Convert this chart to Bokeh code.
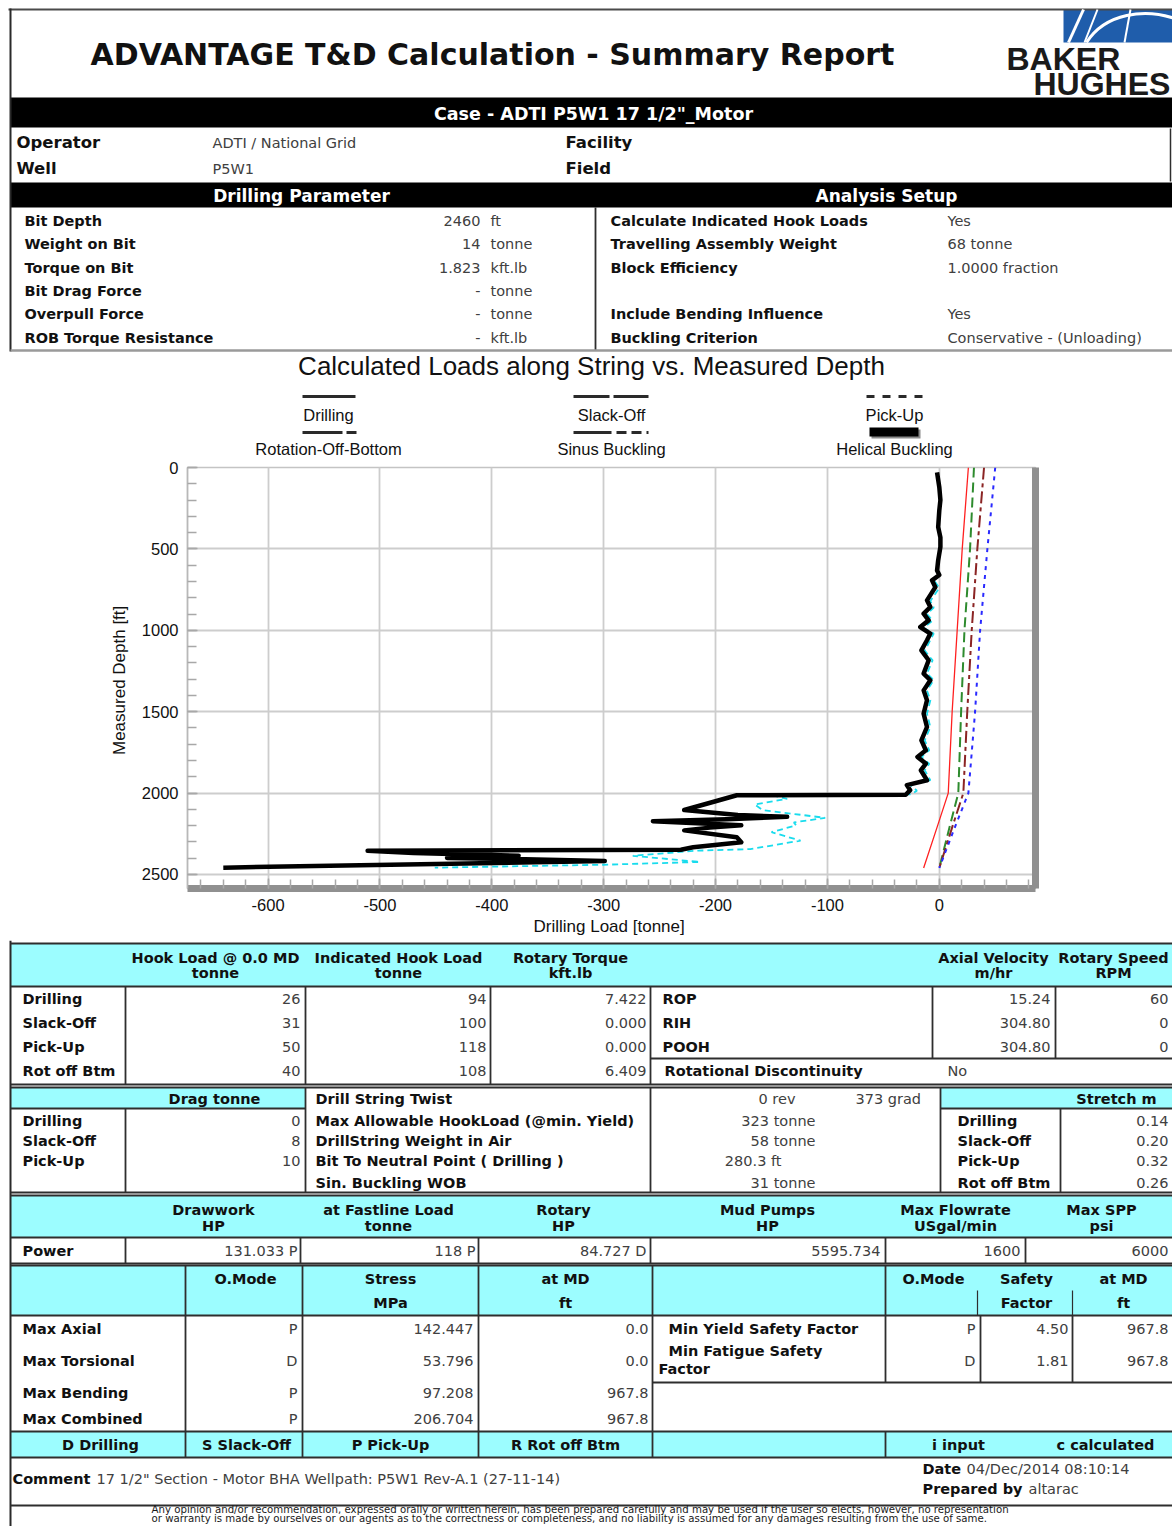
from bokeh.plotting import figure
from bokeh.models import (Range1d, ColumnDataSource, LinearAxis, SingleIntervalTicker, FixedTicker,
                          CustomJSTickFormatter)
from bokeh.layouts import column
from bokeh.embed import file_html
from bokeh.resources import INLINE
from bokeh.core.properties import field

# ---------------------------------------------------------------- chart data
# thick black curve (helical buckling section)
helical_md = [30, 120, 200, 264, 366, 430, 488, 570, 632, 660,
              693, 735, 816, 857, 898, 939, 980, 1020, 1061, 1123,
              1184, 1266, 1307, 1369, 1430, 1512, 1594, 1676, 1737, 1778,
              1819, 1860, 1921, 1951, 1982, 2010, 2013, 2050, 2104, 2135,
              2146, 2160, 2173, 2198, 2212, 2229, 2271, 2302, 2333, 2348,
              2354, 2368, 2385, 2398, 2405, 2417, 2435, 2458]
helical_load = [-2, 0, 1, 0, -1, 1, 1, -1, -2, 0,
                -6.5, -3.5, -11, -8, -14, -9.5, -17, -8, -11, -16,
                -9.5, -14, -8, -14, -11, -14, -11, -16, -12, -19.5,
                -12, -16.5, -11, -29, -26, -30, -181, -200, -228, -180,
                -136, -190, -256, -177, -205, -228, -181, -177, -220, -231,
                -511, -470, -376, -440, -380, -299, -450, -640]
# cyan dashed curve (sinus buckling section)
sinus_md = [650, 700, 740, 820, 860, 900, 940, 985, 1020, 1060,
            1125, 1185, 1265, 1305, 1370, 1430, 1512, 1594, 1676, 1737,
            1778, 1820, 1860, 1921, 1950, 1985, 2008, 2012, 2035, 2070,
            2104, 2152, 2180, 2198, 2240, 2292, 2344, 2354, 2385, 2423,
            2440, 2458]
sinus_load = [1, -4, 0, -8, -5, -11, -6, -14, -5, -8,
              -13, -6, -11, -5, -11, -8, -11, -8, -13, -9,
              -16, -9, -13, -8, -26, -20, -25, -150, -136, -165,
              -158, -102, -130, -128, -150, -124, -169, -218, -274, -214,
              -300, -451]
# operating-mode load curves
ref_md = [0, 500, 1000, 1500, 2000, 2200, 2460]
drilling_load = [26, 20.5, 16, 11.5, 8, -1.5, -14]
slackoff_load = [31, 27.5, 22.5, 19.5, 17, 9.5, 0]
rotoff_load = [40, 34, 29, 25, 21.5, 12, 0]
pickup_load = [50, 43, 36.5, 32, 26, 14.5, 0]

# ---------------------------------------------------------------- report data
report_title = "ADVANTAGE T&D Calculation - Summary Report"
case_title = 'Case - ADTI P5W1 17 1/2"_Motor'
operator, well = "ADTI / National Grid", "P5W1"
dp_labels = ["Bit Depth", "Weight on Bit", "Torque on Bit", "Bit Drag Force", "Overpull Force", "ROB Torque Resistance"]
dp_values = ["2460", "14", "1.823", "-", "-", "-"]
dp_units = ["ft", "tonne", "kft.lb", "tonne", "tonne", "kft.lb"]
as_labels = ["Calculate Indicated Hook Loads", "Travelling Assembly Weight", "Block Efficiency", "", "Include Bending Influence", "Buckling Criterion"]
as_values = ["Yes", "68 tonne", "1.0000 fraction", "", "Yes", "Conservative - (Unloading)"]
legend_names = ["Drilling", "Slack-Off", "Pick-Up", "Rotation-Off-Bottom", "Sinus Buckling", "Helical Buckling"]

modes = ["Drilling", "Slack-Off", "Pick-Up", "Rot off Btm"]
hook_load_0md = [26, 31, 50, 40]
indicated_hook_load = [94, 100, 118, 108]
rotary_torque = ["7.422", "0.000", "0.000", "6.409"]
velocity_modes = ["ROP", "RIH", "POOH"]
axial_velocity = ["15.24", "304.80", "304.80"]
rotary_speed = ["60", "0", "0"]
drag = [0, 8, 10]
string_labels = ["Drill String Twist", "Max Allowable HookLoad (@min. Yield)", "DrillString Weight in Air",
                 "Bit To Neutral Point ( Drilling )", "Sin. Buckling WOB"]
string_values = ["0 rev", "323 tonne", "58 tonne", "280.3 ft", "31 tonne"]
stretch = ["0.14", "0.20", "0.32", "0.26"]
power_headers = [("Drawwork", "HP"), ("at Fastline Load", "tonne"), ("Rotary", "HP"),
                 ("Mud Pumps", "HP"), ("Max Flowrate", "USgal/min"), ("Max SPP", "psi")]
power_values = ["131.033 P", "118 P", "84.727 D", "5595.734", "1600", "6000"]
stress_labels = ["Max Axial", "Max Torsional", "Max Bending", "Max Combined"]
stress_mode = ["P", "D", "P", "P"]
stress_mpa = ["142.447", "53.796", "97.208", "206.704"]
stress_md = ["0.0", "0.0", "967.8", "967.8"]
safety_mode = ["P", "D"]
safety_factor = ["4.50", "1.81"]
safety_md = ["967.8", "967.8"]
mode_codes = ["D Drilling", "S Slack-Off", "P Pick-Up", "R Rot off Btm", "i input", "c calculated"]
comment = '17 1/2" Section - Motor BHA Wellpath: P5W1 Rev-A.1 (27-11-14)'
date_str, prepared_by = "04/Dec/2014 08:10:14", "altarac"
disclaimer = ["Any opinion and/or recommendation, expressed orally or written herein, has been prepared carefully and may be used if the user so elects, however, no representation",
              "or warranty is made by ourselves or our agents as to the correctness or completeness, and no liability is assumed for any damages resulting from the use of same."]

# ---------------------------------------------------------------- helpers
W = 1172
X0, X1 = 0, W
TAB = "DejaVu Sans"
CH = "Liberation Sans"
CYAN = "#9cfdff"
LN = "#2e2e2e"
VAL = "#404040"
SPLIT_AB, SPLIT_BC, BOTTOM = 458, 940, 1526
RX = 1168  # right edge used for right-aligned values at the cut page border


def no_align(fig):
    if "frame_align" in fig.properties():
        fig.frame_align = False


class Sheet:
    def __init__(self, y0, y1):
        self.fig = figure(width=W, height=y1 - y0, x_range=Range1d(X0, X1), y_range=Range1d(y1, y0),
                          x_axis_type=None, y_axis_type=None, output_backend="svg",
                          toolbar_location=None, min_border=0, outline_line_color=None)
        no_align(self.fig)
        self.T = {k: [] for k in ("x", "y", "text", "size", "style", "color", "align", "font")}
        self.Q = {k: [] for k in ("l", "r", "t", "b", "fill")}
        self.S = {k: [] for k in ("x0", "y0", "x1", "y1", "color", "width")}

    def text(self, x, y, s, size=14.5, bold=False, align="left", color="#111111", font=TAB):
        for k, v in zip(self.T, (x, y, s, f"{size}px", "bold" if bold else "normal", color, align, font)):
            self.T[k].append(v)

    def box(self, l, r, t, b, fill):
        for k, v in zip(self.Q, (l, r, t, b, fill)):
            self.Q[k].append(v)

    def seg(self, x0, y0, x1, y1, color=LN, width=1.8):
        for k, v in zip(self.S, (x0, y0, x1, y1, color, width)):
            self.S[k].append(v)

    def h(self, x0, x1, y, **kw):
        self.seg(x0, y, x1, y, **kw)

    def v(self, x, y0, y1, **kw):
        self.seg(x, y0, x, y1, **kw)

    def render(self):
        f = self.fig
        f.quad(left="l", right="r", top="t", bottom="b", fill_color=field("fill"), line_color=None,
               source=ColumnDataSource(self.Q))
        f.segment(x0="x0", y0="y0", x1="x1", y1="y1", line_color=field("color"), line_width=field("width"),
                  source=ColumnDataSource(self.S))
        f.text(x="x", y="y", text="text", text_font_size=field("size"), text_font_style=field("style"),
               text_color=field("color"), text_align=field("align"), text_font=field("font"),
               text_baseline="middle", source=ColumnDataSource(self.T))


# ================================================================ top sheet
A = Sheet(0, SPLIT_AB)
A.h(8, 1174, 9, color="#4a4a4a", width=2)
A.v(10, 8, 351, color="#2a2a2a", width=2)
A.text(492, 54, report_title, size=30, bold=True, align="center")
A.box(1063, 1174, 9, 42, "#1f5dab")
A.text(1006, 58, "BAKER", size=32, bold=True, font=CH, color="#1a1a1a")
A.text(1033, 83, "HUGHES", size=32, bold=True, font=CH, color="#1a1a1a")
A.box(10, 1174, 97, 127, "#000000")
A.text(593, 113, case_title, size=17.5, bold=True, align="center", color="#ffffff")
A.text(16, 142, "Operator", size=16.5, bold=True)
A.text(212, 142, operator, size=14.5, color=VAL)
A.text(565, 142, "Facility", size=16.5, bold=True)
A.text(16, 168, "Well", size=16.5, bold=True)
A.text(212, 168, well, size=14.5, color=VAL)
A.text(565, 168, "Field", size=16.5, bold=True)
A.v(1170, 128, 181, width=1.5)
A.box(10, 1174, 182, 207, "#000000")
A.text(301, 195, "Drilling Parameter", size=17, bold=True, align="center", color="#ffffff")
A.text(886, 195, "Analysis Setup", size=17, bold=True, align="center", color="#ffffff")
row_y = [220, 243, 267, 290, 313, 337]
for i, yy in enumerate(row_y):
    A.text(24, yy, dp_labels[i], bold=True)
    A.text(480, yy, dp_values[i], align="right", color=VAL)
    A.text(490, yy, dp_units[i], color=VAL)
    A.text(610, yy, as_labels[i], bold=True)
    A.text(947, yy, as_values[i], color=VAL)
A.v(595, 207, 350)
A.h(10, 1174, 350, color="#9a9a9a", width=2.5)
# chart title & legend labels
A.text(591, 365, "Calculated Loads along String vs. Measured Depth", size=26, align="center", font=CH)
leg_x = [328, 611, 894, 328, 611, 894]
leg_y = [414, 414, 414, 448, 448, 448]
for nm, lx, ly in zip(legend_names, leg_x, leg_y):
    A.text(lx, ly, nm, size=16.5, align="center", font=CH)
A.render()
fa = A.fig
# logo strokes
fa.segment(x0=[1068, 1084, 1130], y0=[42, 42, 9], x1=[1083, 1097, 1124], y1=[9, 9, 42],
           line_color="white", line_width=[3, 2, 2])
fa.bezier(x0=[1086], y0=[42], x1=[1174], y1=[18], cx0=[1105], cy0=[12], cx1=[1145], cy1=[8],
          line_color="white", line_width=3)
# legend samples
LEGC = "#2a2a2a"
fa.line([302, 355], [396, 396], line_color=LEGC, line_width=3)
fa.line([573, 648], [396, 396], line_color=LEGC, line_width=3, line_dash="36 4")
fa.line([866, 924], [396, 396], line_color=LEGC, line_width=3, line_dash="8 8")
fa.line([302, 356], [432, 432], line_color=LEGC, line_width=3, line_dash="40 4 10 4")
fa.line([573, 648], [432, 432], line_color=LEGC, line_width=3, line_dash="38 5 10 5 10 5")
fa.quad(left=[871], right=[920], top=[429], bottom=[438], fill_color="#8a8a8a", line_color=None)
fa.quad(left=[869], right=[918], top=[427], bottom=[436], fill_color="#000000", line_color=None)

# ================================================================ chart
p = figure(width=W, height=SPLIT_BC - SPLIT_AB, x_range=Range1d(-672, 86), y_range=Range1d(2586, 0),
           output_backend="svg", toolbar_location=None,
           min_border_left=187, min_border_right=W - 1035, min_border_top=467 - SPLIT_AB,
           min_border_bottom=SPLIT_BC - 888)
no_align(p)
p.outline_line_color = "#c4c4c4"
p.outline_line_width = 1.5
p.xgrid.grid_line_color = "#cdcdcd"
p.ygrid.grid_line_color = "#cdcdcd"
p.xgrid.grid_line_width = 1.8
p.ygrid.grid_line_width = 1.8
xa, ya = p.xaxis[0], p.yaxis[0]
xa.ticker = SingleIntervalTicker(interval=100, num_minor_ticks=5)
ya.ticker = SingleIntervalTicker(interval=500, num_minor_ticks=5)
xa.formatter = CustomJSTickFormatter(code="return String(tick)")
for ax in (xa, ya):
    ax.major_tick_in = 10
    ax.major_tick_out = 0
    ax.minor_tick_in = 9
    ax.minor_tick_out = 0
    ax.major_tick_line_color = "#a8a8a8"
    ax.minor_tick_line_color = "#a8a8a8"
    ax.major_tick_line_width = 1.5
    ax.minor_tick_line_width = 1.5
    ax.major_label_text_font = CH
    ax.major_label_text_font_size = "16.5px"
    ax.major_label_text_color = "#111111"
    ax.axis_label_text_font = CH
    ax.axis_label_text_font_size = "17px"
    ax.axis_label_text_font_style = "normal"
    ax.axis_label_text_color = "#111111"
xa.axis_label = "Drilling Load  [tonne]"
ya.axis_label = "Measured Depth  [ft]"
xa.major_label_standoff = 10
xa.axis_label_standoff = 3
ya.major_label_standoff = 9
ya.axis_label_standoff = 10
xa.axis_line_color = "#909090"
xa.axis_line_width = 7
ya.axis_line_color = "#b8b8b8"
ya.axis_line_width = 1.5
shadow = LinearAxis(ticker=FixedTicker(ticks=[]), axis_line_color="#909090", axis_line_width=7,
                    major_tick_line_color=None, minor_tick_line_color=None)
p.add_layout(shadow, "right")

p.line(sinus_load, sinus_md, line_color="#19dced", line_width=1.8, line_dash="6 4")
p.line(helical_load, helical_md, line_color="#000000", line_width=4.5, line_join="round")
p.line(drilling_load, ref_md, line_color="#ff2020", line_width=1.3)
p.line(slackoff_load, ref_md, line_color="#2e8b2e", line_width=2, line_dash="10 5")
p.line(rotoff_load, ref_md, line_color="#8b2424", line_width=2, line_dash="12 4 4 4")
p.line(pickup_load, ref_md, line_color="#2a2aff", line_width=2, line_dash="4 5")

# ================================================================ bottom sheet
C = Sheet(SPLIT_BC, BOTTOM)
C.v(10, 940, 1526, color="#2a2a2a", width=2)
# --- table 1
C.box(10, 1174, 943, 986, CYAN)
C.h(10, 1174, 943); C.h(10, 1174, 986)
for x in (125, 305, 490, 650):
    C.v(x, 986, 1084)
for x in (932, 1055):
    C.v(x, 986, 1058)
C.h(650, 1174, 1058); C.h(10, 1174, 1084)
t1_heads = [("Hook Load @ 0.0 MD", "tonne"), ("Indicated Hook Load", "tonne"), ("Rotary Torque", "kft.lb"),
            ("Axial Velocity", "m/hr"), ("Rotary Speed", "RPM")]
for (a, b), x in zip(t1_heads, (215, 398, 570, 993, 1113)):
    C.text(x, 957, a, bold=True, align="center")
    C.text(x, 972, b, bold=True, align="center")
y1 = [998, 1022, 1046, 1070]
for i, yy in enumerate(y1):
    C.text(22, yy, modes[i], bold=True)
    C.text(300, yy, str(hook_load_0md[i]), align="right", color=VAL)
    C.text(486, yy, str(indicated_hook_load[i]), align="right", color=VAL)
    C.text(646, yy, rotary_torque[i], align="right", color=VAL)
for i, vm in enumerate(velocity_modes):
    C.text(662, y1[i], vm, bold=True)
    C.text(1050, y1[i], axial_velocity[i], align="right", color=VAL)
    C.text(RX, y1[i], rotary_speed[i], align="right", color=VAL)
C.text(664, 1070, "Rotational Discontinuity", bold=True)
C.text(947, 1070, "No", color=VAL)
# --- table 2
C.box(10, 305, 1087, 1108, CYAN)
C.box(940, 1174, 1087, 1108, CYAN)
C.h(10, 1174, 1087); C.h(10, 305, 1108); C.h(940, 1174, 1108); C.h(10, 1174, 1192)
C.v(125, 1108, 1192); C.v(305, 1087, 1192); C.v(650, 1087, 1192); C.v(940, 1087, 1192); C.v(1060, 1108, 1192)
C.text(214, 1098, "Drag tonne", bold=True, align="center")
C.text(1116, 1098, "Stretch m", bold=True, align="center")
y2 = [1120, 1140, 1160, 1182]
for i, d in enumerate(drag):
    C.text(22, y2[i], modes[i], bold=True)
    C.text(300, y2[i], str(d), align="right", color=VAL)
sy = [1098, 1120, 1140, 1160, 1182]
sx = [795, 815, 815, 781, 815]
for i, lab in enumerate(string_labels):
    C.text(315, sy[i], lab, bold=True)
    C.text(sx[i], sy[i], string_values[i], align="right", color=VAL)
C.text(855, 1098, "373  grad", color=VAL)
for i, s in enumerate(stretch):
    C.text(957, y2[i], modes[i], bold=True)
    C.text(RX, y2[i], s, align="right", color=VAL)
# --- table 3
C.box(10, 1174, 1195, 1237, CYAN)
C.h(10, 1174, 1195); C.h(10, 1174, 1237); C.h(10, 1174, 1263)
for x in (125, 300, 478, 650, 885, 1025):
    C.v(x, 1237, 1263)
for (a, b), x in zip(power_headers, (213, 388, 563, 767, 955, 1101)):
    C.text(x, 1209, a, bold=True, align="center")
    C.text(x, 1225, b, bold=True, align="center")
C.text(22, 1250, "Power", bold=True)
for v_, x in zip(power_values, (297, 475, 646, 880, 1020, RX)):
    C.text(x, 1250, v_, align="right", color=VAL)
# --- table 4
C.box(10, 1174, 1265, 1315, CYAN)
C.box(10, 1174, 1431, 1457, CYAN)
C.h(10, 1174, 1265); C.h(10, 1174, 1315); C.h(652, 1174, 1382)
C.h(10, 1174, 1431); C.h(10, 1174, 1457); C.h(10, 1174, 1505)
for x in (185, 302, 478, 652):
    C.v(x, 1265, 1457)
C.v(885, 1265, 1382); C.v(885, 1431, 1457)
C.v(977, 1290, 1315, width=1.2); C.v(1072, 1290, 1315, width=1.2)
C.v(980, 1315, 1382); C.v(1072, 1315, 1382)
C.text(245, 1278, "O.Mode", bold=True, align="center")
for a, b, x in (("Stress", "MPa", 390), ("at MD", "ft", 565), ("Safety", "Factor", 1026), ("at MD", "ft", 1123)):
    C.text(x, 1278, a, bold=True, align="center")
    C.text(x, 1302, b, bold=True, align="center")
C.text(933, 1278, "O.Mode", bold=True, align="center")
y4 = [1328, 1360, 1392, 1418]
for i, lab in enumerate(stress_labels):
    C.text(22, y4[i], lab, bold=True)
    C.text(297, y4[i], stress_mode[i], align="right", color=VAL)
    C.text(473, y4[i], stress_mpa[i], align="right", color=VAL)
    C.text(648, y4[i], stress_md[i], align="right", color=VAL)
C.text(668, 1328, "Min Yield Safety Factor", bold=True)
C.text(668, 1350, "Min Fatigue Safety", bold=True)
C.text(658, 1368, "Factor", bold=True)
for i, yy in enumerate((1328, 1360)):
    C.text(975, yy, safety_mode[i], align="right", color=VAL)
    C.text(1068, yy, safety_factor[i], align="right", color=VAL)
    C.text(RX, yy, safety_md[i], align="right", color=VAL)
for lab, x in zip(mode_codes, (100, 246, 390, 565, 958, 1105)):
    C.text(x, 1444, lab, bold=True, align="center")
# --- comment / footer
C.text(12, 1478, "Comment", bold=True)
C.text(96, 1478, comment, color=VAL)
C.text(922, 1468, "Date", bold=True)
C.text(966, 1468, date_str, color=VAL)
C.text(922, 1488, "Prepared by", bold=True)
C.text(1028, 1488, prepared_by, color=VAL)
C.text(151, 1509, disclaimer[0], size=10.2, font=TAB, color="#1a1a1a")
C.text(151, 1518, disclaimer[1], size=10.2, font=TAB, color="#1a1a1a")
C.render()

layout = column(A.fig, p, C.fig)
open("out.html", "w").write(file_html(layout, INLINE))
